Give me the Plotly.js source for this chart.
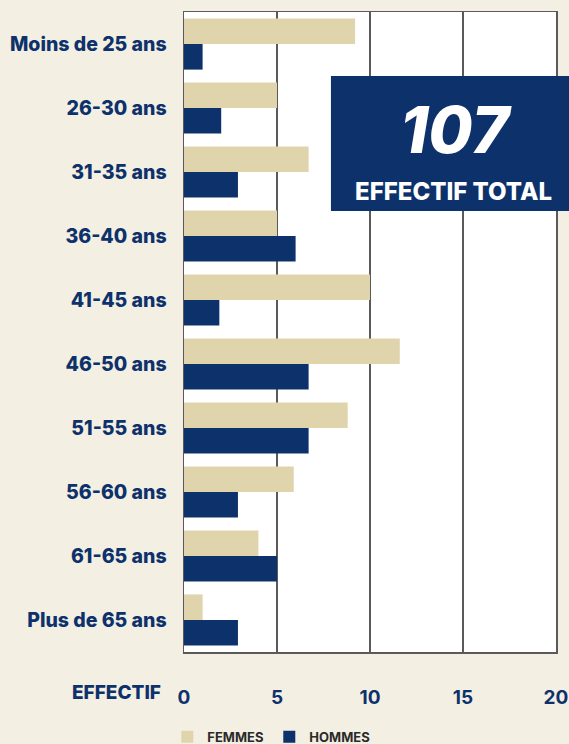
<!DOCTYPE html>
<html>
<head>
<meta charset="utf-8">
<script src="https://cdn.plot.ly/plotly-3.0.1.min.js"></script>
<style>
html,body{margin:0;padding:0;background:#f4efe3;}
#chart{width:569px;height:744px;}
</style>
</head>
<body>
<div id="chart"></div>
<script>
const categories = ["Moins de 25 ans","26-30 ans","31-35 ans","36-40 ans","41-45 ans","46-50 ans","51-55 ans","56-60 ans","61-65 ans","Plus de 65 ans"];
const femmes = [9.2, 5, 6.7, 5, 10, 11.6, 8.8, 5.9, 4, 1];
const hommes = [1, 2, 2.9, 6, 1.9, 6.7, 6.7, 2.9, 5, 2.9];
const tickVals = [0, 5, 10, 15, 20];
const tickText = ["0", "5", "10", "15", "20"];
const totalValue = "107";
const totalLabel = "EFFECTIF TOTAL";
const axisLabel = "EFFECTIF";

const navy = "#0d326b";
const tan = "#dfd4ac";
const fontFam = "Inter, 'Open Sans', sans-serif";

const traces = [
  {type:"bar", orientation:"h", name:"FEMMES", y:categories, x:femmes,
   marker:{color:tan}, hoverinfo:"x"},
  {type:"bar", orientation:"h", name:"HOMMES", y:categories, x:hommes,
   marker:{color:navy}, hoverinfo:"x"}
];

const layout = {
  width:569, height:744,
  paper_bgcolor:"#f4efe3",
  plot_bgcolor:"#ffffff",
  margin:{l:184, r:13, t:12, b:92, autoexpand:false},
  barmode:"group",
  bargap:0.2,
  bargroupgap:0,
  showlegend:true,
  legend:{orientation:"h", xref:"container", yref:"container",
    x:0.294, xanchor:"left", y:0.03, yanchor:"top",
    entrywidth:57, entrywidthmode:"pixels",
    font:{family:fontFam, size:13, color:"#2a2a2a", weight:700},
    traceorder:"normal", bgcolor:"rgba(0,0,0,0)"},
  xaxis:{range:[0,20], tickvals:tickVals, ticktext:tickText,
    showgrid:true, gridcolor:"#5a5a5a", gridwidth:1.5,
    showline:true, linecolor:"#5a5a5a", linewidth:1.5, mirror:true,
    zeroline:false, ticks:"", ticklabelstandoff:28,
    tickfont:{family:fontFam, size:19, color:navy, weight:700},
    fixedrange:true},
  yaxis:{type:"category", autorange:"reversed",
    showline:true, linecolor:"#5a5a5a", linewidth:1.5, mirror:true,
    showgrid:false, ticks:"", ticklabelstandoff:12,
    tickfont:{family:fontFam, size:19.5, color:navy, weight:800},
    fixedrange:true},
  shapes:[
    {type:"rect", xref:"paper", yref:"paper", x0:0.395, x1:1.04, y0:0.689, y1:0.9,
     fillcolor:navy, line:{width:0}, layer:"above"}
  ],
  annotations:[
    {xref:"paper", yref:"paper", x:0.73, y:0.8, yanchor:"middle", xanchor:"center",
     text:"<i>"+totalValue+"</i>", showarrow:false, yshift:10,
     font:{family:fontFam, size:64, color:"#ffffff", weight:800}},
    {xref:"paper", yref:"paper", x:0.725, y:0.72, yanchor:"middle", xanchor:"center",
     text:totalLabel, showarrow:false,
     font:{family:fontFam, size:24, color:"#ffffff", weight:800}},
    {xref:"paper", yref:"paper", x:0, y:0, xanchor:"right", yanchor:"middle",
     xshift:-21, yshift:-40, text:axisLabel, showarrow:false,
     font:{family:fontFam, size:19, color:navy, weight:800}}
  ]
};

Plotly.newPlot("chart", traces, layout, {displayModeBar:false, staticPlot:true});
</script>
</body>
</html>
